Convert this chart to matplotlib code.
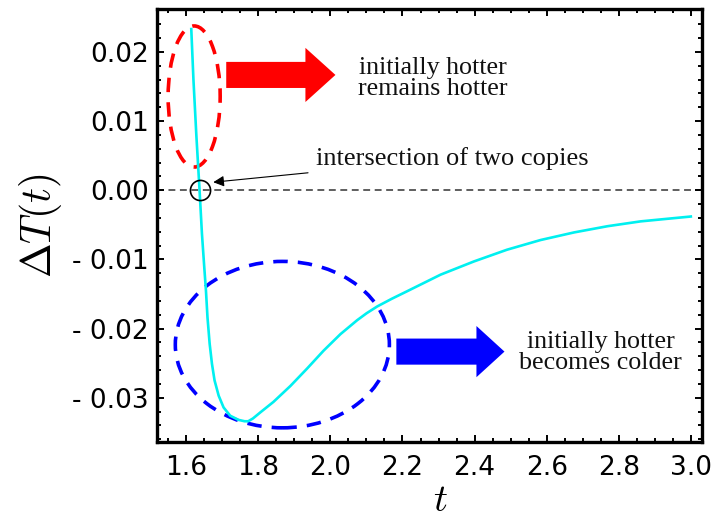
import numpy as np
import matplotlib
matplotlib.use("Agg")
from matplotlib import pyplot as plt
from matplotlib import patches as mpatches
from matplotlib.ticker import MultipleLocator, FuncFormatter

plt.rcParams["mathtext.fontset"] = "cm"

# temperature difference between the two copies
t = [1.614, 1.620, 1.628, 1.637, 1.6436, 1.650, 1.6547, 1.659, 1.665,
     1.6714, 1.6786, 1.690, 1.7036, 1.722, 1.745, 1.762, 1.772, 1.785,
     1.806, 1.842, 1.889, 1.935, 1.981, 2.028, 2.074, 2.100, 2.130, 2.170,
     2.213, 2.306, 2.398, 2.490, 2.583, 2.676, 2.769, 2.861, 3.000]
dT = [0.0233, 0.0160, 0.0080, 0.0000, -0.0063, -0.0111, -0.0145, -0.0184,
      -0.0222, -0.0251, -0.0275, -0.0297, -0.0314, -0.0326, -0.0332,
      -0.0334, -0.0334, -0.0330, -0.0321, -0.0306, -0.0283, -0.0258,
      -0.0232, -0.0208, -0.0188, -0.0178, -0.0168, -0.0157, -0.0146,
      -0.0122, -0.0103, -0.0086, -0.0072, -0.0061, -0.0052, -0.0045,
      -0.0038]

t_cross = 1.637
x_ticks = [1.6, 1.8, 2.0, 2.2, 2.4, 2.6, 2.8, 3.0]
y_ticks = [0.02, 0.01, 0.0, -0.01, -0.02, -0.03]

serif = "Liberation Serif"

fig = plt.figure(figsize=(7.24, 5.18), dpi=100)
ax = fig.add_axes([0.2169, 0.1467, 0.7527, 0.8359])

ax.axhline(0, color="#333333", lw=1.1, ls=(0, (4.5, 3)), zorder=1)
ax.plot(t, dT, color="#00f0f0", lw=1.9, zorder=3, solid_joinstyle="round")
ax.plot([t_cross], [0], "o", ms=14.5, mfc="none", mec="black", mew=1.2, zorder=4)

# dashed ellipses marking the two regimes
ax.add_patch(mpatches.Ellipse((1.622, 0.01355), 0.1444, 0.0204, fill=False,
                              ec="red", lw=2.6, ls=(0, (4, 2.8)), zorder=2))
ax.add_patch(mpatches.Ellipse((1.8667, -0.02232), 0.594, 0.02406, fill=False,
                              ec="blue", lw=2.6, ls=(0, (4, 2.8)), zorder=2))

# block arrows
ax.add_patch(mpatches.FancyArrow(1.711, 0.01667, 0.303, 0, width=0.00377,
                                 head_width=0.00783, head_length=0.0833,
                                 length_includes_head=True, color="red", lw=0))
ax.add_patch(mpatches.FancyArrow(2.183, -0.02333, 0.300, 0, width=0.00377,
                                 head_width=0.0074, head_length=0.0778,
                                 length_includes_head=True, color="blue", lw=0))

ax.text(2.283, 0.0162, "initially hotter\nremains hotter", family=serif,
        fontsize=18.7, ha="center", va="center", linespacing=0.92, color="#111111")
ax.text(2.75, -0.02348, "initially hotter\nbecomes colder", family=serif,
        fontsize=18.7, ha="center", va="center", linespacing=0.92, color="#111111")
ax.annotate("intersection of two copies", xy=(1.675, 0.00116), xytext=(1.961, 0.0046),
            family=serif, fontsize=19, ha="left", va="center", color="#111111",
            arrowprops=dict(arrowstyle="-|>", color="black", lw=0.8,
                            mutation_scale=16, shrinkA=4, shrinkB=0))

ax.set_xlim(1.519, 3.031)
ax.set_ylim(-0.0364, 0.0262)
ax.set_xticks(x_ticks)
ax.set_yticks(y_ticks)
ax.xaxis.set_minor_locator(MultipleLocator(0.05))
ax.yaxis.set_minor_locator(MultipleLocator(0.002))
ax.xaxis.set_major_formatter(FuncFormatter(lambda v, p: "%.1f" % v))
ax.yaxis.set_major_formatter(FuncFormatter(
    lambda v, p: "- %.2f" % abs(v) if v < -1e-9 else "%.2f" % abs(v)))

ax.tick_params(which="both", direction="in", top=True, right=True, width=1.4,
               labelsize=19, color="black")
ax.tick_params(which="major", length=5)
ax.tick_params(which="minor", length=3)
ax.tick_params(axis="y", pad=6)
ax.tick_params(axis="x", pad=9)
for s in ax.spines.values():
    s.set_linewidth(2.4)

ax.set_ylabel(r"$\Delta T(t)$", fontsize=30)
ax.yaxis.set_label_coords(-0.17, 0.5)
ax.set_xlabel(r"$t$", fontsize=28)
ax.xaxis.set_label_coords(0.52, -0.09)

fig.savefig("out.png", dpi=100)
